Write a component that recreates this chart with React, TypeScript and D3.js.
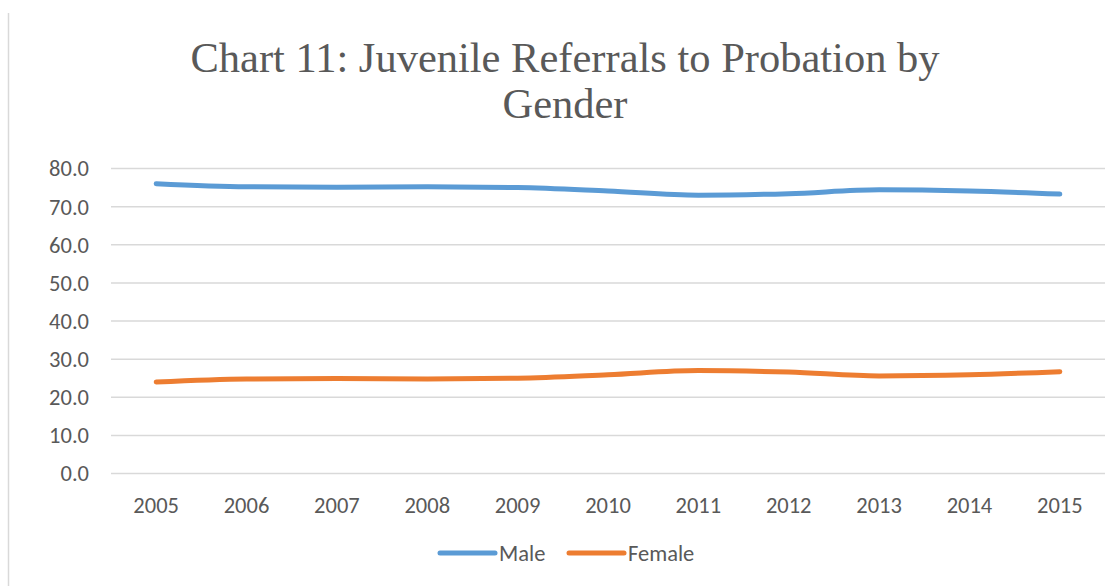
import React from "react";
import * as d3 from "d3";

const years = ["2005","2006","2007","2008","2009","2010","2011","2012","2013","2014","2015"];
const male = [76.0, 75.2, 75.1, 75.2, 75.0, 74.1, 73.0, 73.4, 74.4, 74.1, 73.3];
const female = [24.0, 24.8, 24.9, 24.8, 25.0, 25.9, 27.0, 26.6, 25.6, 25.9, 26.7];
const yTicks = [0, 10, 20, 30, 40, 50, 60, 70, 80];
const titleLines = ["Chart 11: Juvenile Referrals to Probation by", "Gender"];

const W = 1107, H = 586;
const left = 111, right = 1105, top = 168.5, bottom = 473.5;

export default function App() {
  const x = d3.scaleBand<string>().domain(years).range([left, right]);
  const y = d3.scaleLinear().domain([0, 80]).range([bottom, top]);
  const line = d3.line<number>()
    .x((_, i) => (x(years[i]) as number) + x.bandwidth() / 2)
    .y((d) => y(d))
    .curve(d3.curveMonotoneX);
  const series = [
    { name: "Male", values: male, color: "#5B9BD5" },
    { name: "Female", values: female, color: "#ED7D31" },
  ];
  const font = "Carlito, Calibri, 'Open Sans', 'Liberation Sans', sans-serif";
  const fs = 22.5;
  return (
    <svg width={W} height={H} style={{ position: "absolute", left: 0, top: 0, background: "#fff" }}>
      <line x1={8.5} x2={8.5} y1={13} y2={H} stroke="#D9D9D9" strokeWidth={1.5} />
      {titleLines.map((t, i) => (
        <text key={i} x={565} y={72 + i * 46} textAnchor="middle"
          fontFamily="'Liberation Serif', 'Times New Roman', serif" fontSize={42.5} fill="#595959">{t}</text>
      ))}
      {yTicks.map((t) => (
        <g key={t}>
          <line x1={left} x2={right} y1={y(t)} y2={y(t)} stroke="#D9D9D9" strokeWidth={1.5} />
          <text x={89} y={y(t)} dy="0.35em" textAnchor="end" fontFamily={font} fontSize={fs} fill="#595959">{t.toFixed(1)}</text>
        </g>
      ))}
      {years.map((yr) => (
        <text key={yr} x={(x(yr) as number) + x.bandwidth() / 2} y={505} dy="0.35em" textAnchor="middle"
          fontFamily={font} fontSize={fs} fill="#595959">{yr}</text>
      ))}
      {series.map((s) => (
        <path key={s.name} d={line(s.values) || ""} fill="none" stroke={s.color} strokeWidth={5}
          strokeLinecap="round" strokeLinejoin="round" />
      ))}
      {series.map((s, i) => {
        const lx = 440 + i * 129;
        return (
          <g key={s.name}>
            <line x1={lx} x2={lx + 55} y1={553} y2={553} stroke={s.color} strokeWidth={5} strokeLinecap="round" />
            <text x={lx + 59} y={553} dy="0.35em" fontFamily={font} fontSize={fs} fill="#595959">{s.name}</text>
          </g>
        );
      })}
    </svg>
  );
}
